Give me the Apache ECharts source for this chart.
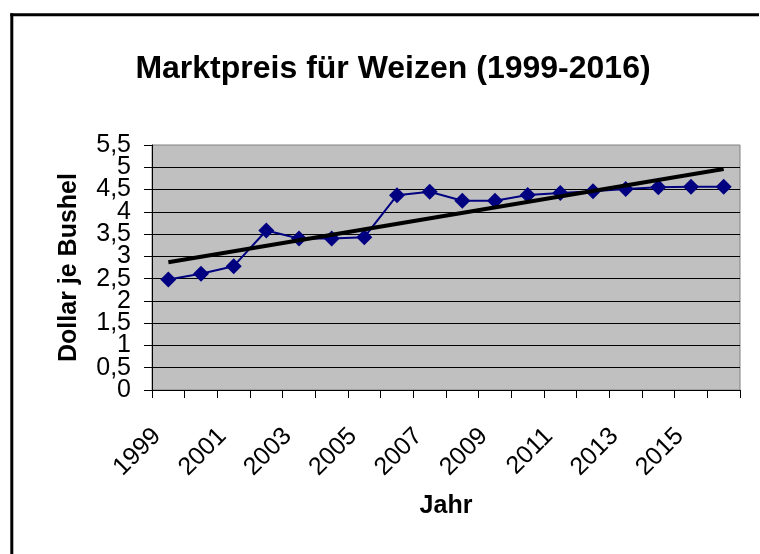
<!DOCTYPE html>
<html><head><meta charset="utf-8">
<script src="https://cdn.jsdelivr.net/npm/echarts@6/dist/echarts.min.js"></script>
<style>html,body{margin:0;padding:0;background:#fff;overflow:hidden}#c{width:760px;height:554px}</style>
</head><body><div id="c"></div>
<script>
const years = ['1999','2000','2001','2002','2003','2004','2005','2006','2007','2008','2009','2010','2011','2012','2013','2014','2015','2016'];
const prices = [2.48, 2.61, 2.78, 3.58, 3.40, 3.40, 3.43, 4.37, 4.45, 4.25, 4.25, 4.38, 4.42, 4.46, 4.51, 4.55, 4.56, 4.56];
const trendStart = 2.87;
const trendEnd = 4.96;
const yMin = 0, yMax = 5.5, yStep = 0.5;
const yTickLabels = ['0','0,5','1','1,5','2','2,5','3','3,5','4','4,5','5','5,5'];
const titleText = 'Marktpreis für Weizen (1999-2016)';
const xName = 'Jahr';
const yName = 'Dollar je Bushel';

const FONT = '"Liberation Sans", Arial, sans-serif';
const chart = echarts.init(document.getElementById('c'), null, {renderer: 'canvas'});
chart.setOption({
  animation: false,
  backgroundColor: '#ffffff',
  title: {
    text: titleText, left: 388, top: 48, textAlign: 'center',
    textStyle: {fontFamily: FONT, fontSize: 32, fontWeight: 'bold', color: '#000'}
  },
  graphic: [{
    type: 'line', shape: {x1: 11.8, y1: 13.3, x2: 11.8, y2: 560},
    style: {stroke: '#000', lineWidth: 3}, silent: true, z: 100
  }, {
    type: 'line', shape: {x1: 10.3, y1: 14.8, x2: 759, y2: 14.8},
    style: {stroke: '#000', lineWidth: 3}, silent: true, z: 100
  }],
  grid: {left: 152, right: 20, top: 145, bottom: 164, show: true,
    backgroundColor: '#C0C0C0', borderColor: '#808080', borderWidth: 1},
  xAxis: {
    type: 'category', data: years, boundaryGap: true,
    name: xName, nameLocation: 'middle', nameGap: 104,
    nameTextStyle: {fontFamily: FONT, fontSize: 25, fontWeight: 'bold', color: '#000'},
    axisLine: {show: true, lineStyle: {color: '#000', width: 1}},
    axisTick: {show: true, interval: 0, length: 8, inside: false, lineStyle: {color: '#000'}},
    axisLabel: {interval: 1, rotate: 45, margin: 31, fontFamily: FONT, fontSize: 25, color: '#000',
      padding: [0, 16, 0, 0], hideOverlap: false},
    splitLine: {show: false}
  },
  yAxis: [{
    type: 'value', min: yMin, max: yMax, interval: yStep,
    name: yName, nameLocation: 'middle', nameGap: 70, nameRotate: 90,
    nameTextStyle: {fontFamily: FONT, fontSize: 25, fontWeight: 'bold', color: '#000'},
    axisLine: {show: true, lineStyle: {color: '#000', width: 1}},
    axisTick: {show: true, length: 8, lineStyle: {color: '#000'}},
    axisLabel: {show: false},
    splitLine: {show: true, showMaxLine: false, lineStyle: {color: '#000', width: 1}}
  }, {
    type: 'category', data: yTickLabels, boundaryGap: false, position: 'left', offset: 0,
    axisLine: {show: false}, axisTick: {show: false}, splitLine: {show: false},
    axisLabel: {interval: 0, margin: 21, fontFamily: FONT, fontSize: 25, color: '#000', hideOverlap: false}
  }],
  series: [{
    type: 'line', data: prices, yAxisIndex: 0, symbol: 'diamond', symbolSize: 16,
    lineStyle: {color: '#000080', width: 2}, itemStyle: {color: '#000080'}, z: 3
  }, {
    type: 'line', yAxisIndex: 0, data: [[years[0], trendStart], [years[years.length - 1], trendEnd]],
    symbol: 'none', lineStyle: {color: '#000', width: 4}, z: 4
  }]
});
</script></body></html>
